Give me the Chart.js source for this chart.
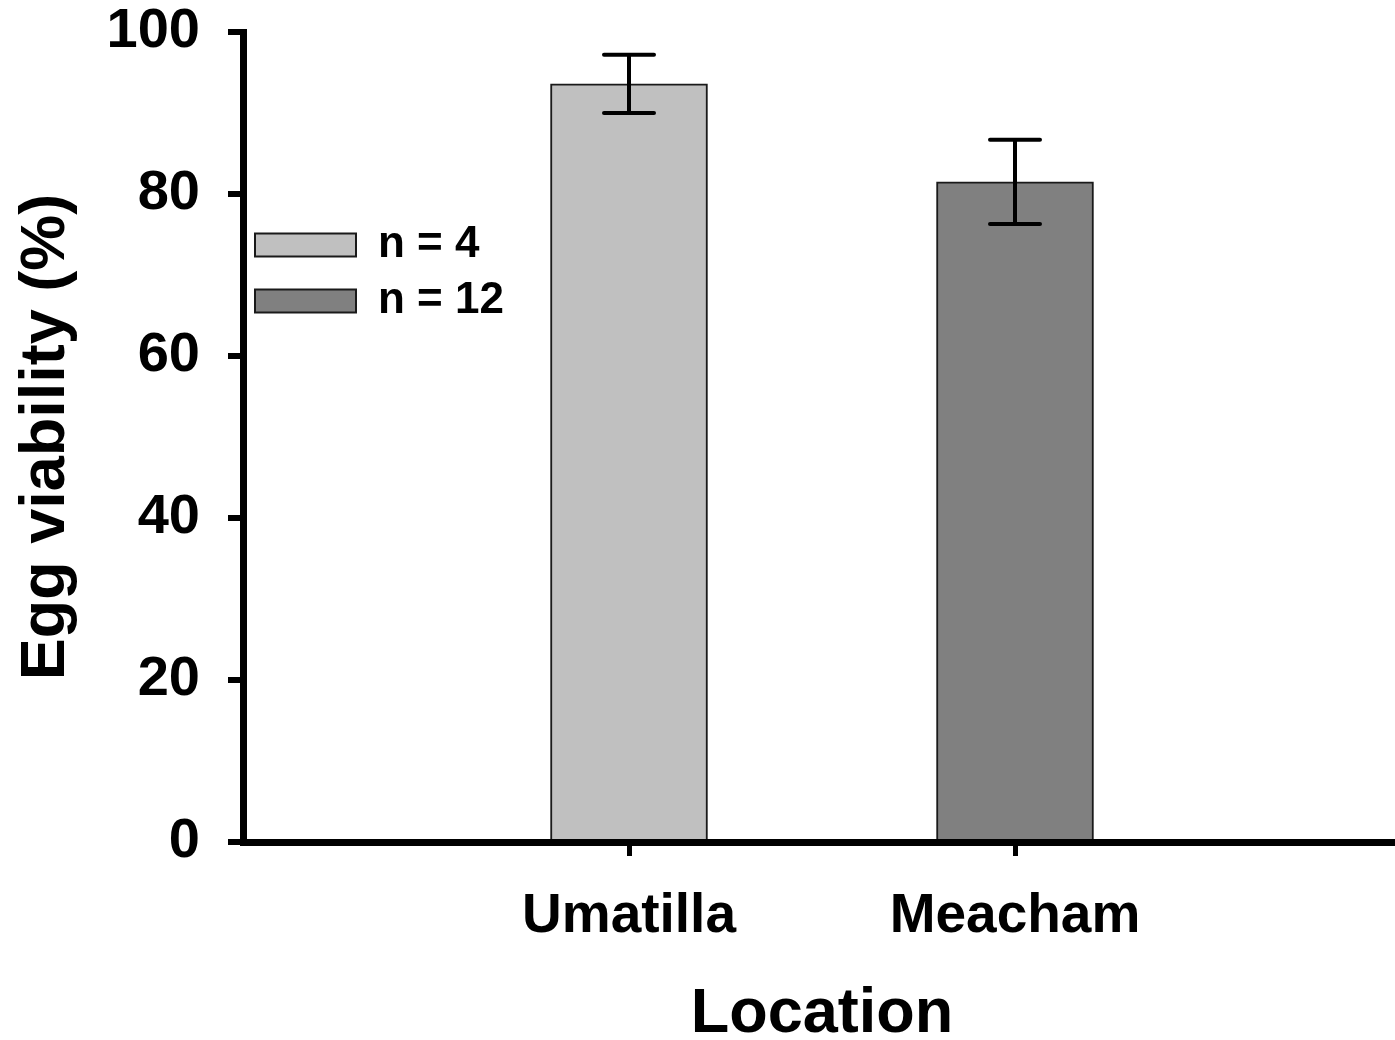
<!DOCTYPE html>
<html>
<head>
<meta charset="utf-8">
<script src="https://cdn.jsdelivr.net/npm/chart.js@4.4.1/dist/chart.umd.min.js"></script>
<style>
  html, body { margin: 0; padding: 0; background: #fff; overflow: hidden; }
  canvas { display: block; }
</style>
</head>
<body>
<canvas id="chart" width="1401" height="1040"></canvas>
<script>
// values
const locations = ['Umatilla', 'Meacham'];
const viability = [93.6, 81.5];
const viabilityErr = [3.6, 5.2];
const sampleLabels = ['n = 4', 'n = 12'];
const barColors = ['#c0c0c0', '#808080'];
const yTicks = [0, 20, 40, 60, 80, 100];

// empty slots at both ends give the spacing of the original axis
const axisLabels = [''].concat(locations, ['']);

const datasets = locations.map((loc, i) => ({
  label: sampleLabels[i],
  data: axisLabels.map((lab) => (lab === loc ? viability[i] : null)),
  err: axisLabels.map((lab) => (lab === loc ? viabilityErr[i] : null)),
  backgroundColor: barColors[i],
  borderColor: '#1a1a1a',
  borderWidth: 2,
  barThickness: 157,
  grouped: false,
}));

// error bars drawn through the y scale
const errorBars = {
  id: 'errorBars',
  afterDatasetsDraw(chart) {
    const ctx = chart.ctx;
    const y = chart.scales.y;
    ctx.save();
    ctx.strokeStyle = '#000';
    ctx.lineWidth = 4;
    ctx.lineCap = 'round';
    chart.data.datasets.forEach((ds, di) => {
      const meta = chart.getDatasetMeta(di);
      ds.data.forEach((v, i) => {
        if (v == null) return;
        const x = meta.data[i].x;
        const top = y.getPixelForValue(v + ds.err[i]);
        const bot = y.getPixelForValue(v - ds.err[i]);
        ctx.beginPath();
        ctx.moveTo(x, top); ctx.lineTo(x, bot);
        ctx.moveTo(x - 25, top); ctx.lineTo(x + 25, top);
        ctx.moveTo(x - 25, bot); ctx.lineTo(x + 25, bot);
        ctx.stroke();
      });
    });
    ctx.restore();
  }
};

const font = 'Liberation Sans, Arial, Helvetica, sans-serif';

new Chart(document.getElementById('chart').getContext('2d'), {
  type: 'bar',
  data: { labels: axisLabels, datasets: datasets },
  options: {
    responsive: false,
    animation: false,
    devicePixelRatio: 1,
    layout: { padding: { top: 32, right: 0, bottom: 0, left: 0 } },
    plugins: {
      tooltip: { enabled: false },
      legend: {
        position: 'chartArea',
        align: 'start',
        // blank title pushes the legend rows down to where they sit in the figure
        title: { display: true, text: ' ', font: { size: 1, lineHeight: 1 }, padding: { top: 210, bottom: 0 } },
        labels: {
          boxWidth: 101,
          boxHeight: 23,
          padding: 12,
          color: '#000',
          font: { family: font, size: 44, weight: 'bold', lineHeight: 1 },
        },
      },
    },
    scales: {
      x: {
        z: 1,
        offset: false,
        afterFit(scale) { scale.height = 198; },
        border: { display: true, color: '#000', width: 7 },
        grid: {
          offset: false,
          drawOnChartArea: false,
          drawTicks: true,
          tickLength: 14,
          lineWidth: 5,
          tickColor: (c) => (axisLabels[c.index] ? '#000' : 'rgba(0,0,0,0)'),
        },
        ticks: {
          autoSkip: false,
          maxRotation: 0,
          padding: 0,
          color: '#000',
          font: { family: font, size: 55, weight: 'bold', lineHeight: 2.218 },
        },
        title: {
          display: true,
          text: 'Location',
          color: '#000',
          padding: { top: 0, bottom: 0 },
          font: { family: font, size: 63, weight: 'bold', lineHeight: 0.82 },
        },
      },
      y: {
        z: 1,
        min: 0,
        max: 100,
        afterFit(scale) { scale.width = 243; },
        afterBuildTicks(scale) { scale.ticks = yTicks.map((v) => ({ value: v })); },
        border: { display: true, color: '#000', width: 7 },
        grid: {
          drawOnChartArea: false,
          drawTicks: true,
          tickLength: 15,
          lineWidth: 6,
          color: '#000',
        },
        ticks: {
          padding: 28,
          color: '#000',
          font: { family: font, size: 56, weight: 'bold', lineHeight: 0.1 },
        },
        title: {
          display: true,
          text: 'Egg viability (%)',
          color: '#000',
          padding: { top: 9, bottom: 0 },
          font: { family: font, size: 63, weight: 'bold', lineHeight: 1.2 },
        },
      },
    },
  },
  plugins: [errorBars],
});
</script>
</body>
</html>
